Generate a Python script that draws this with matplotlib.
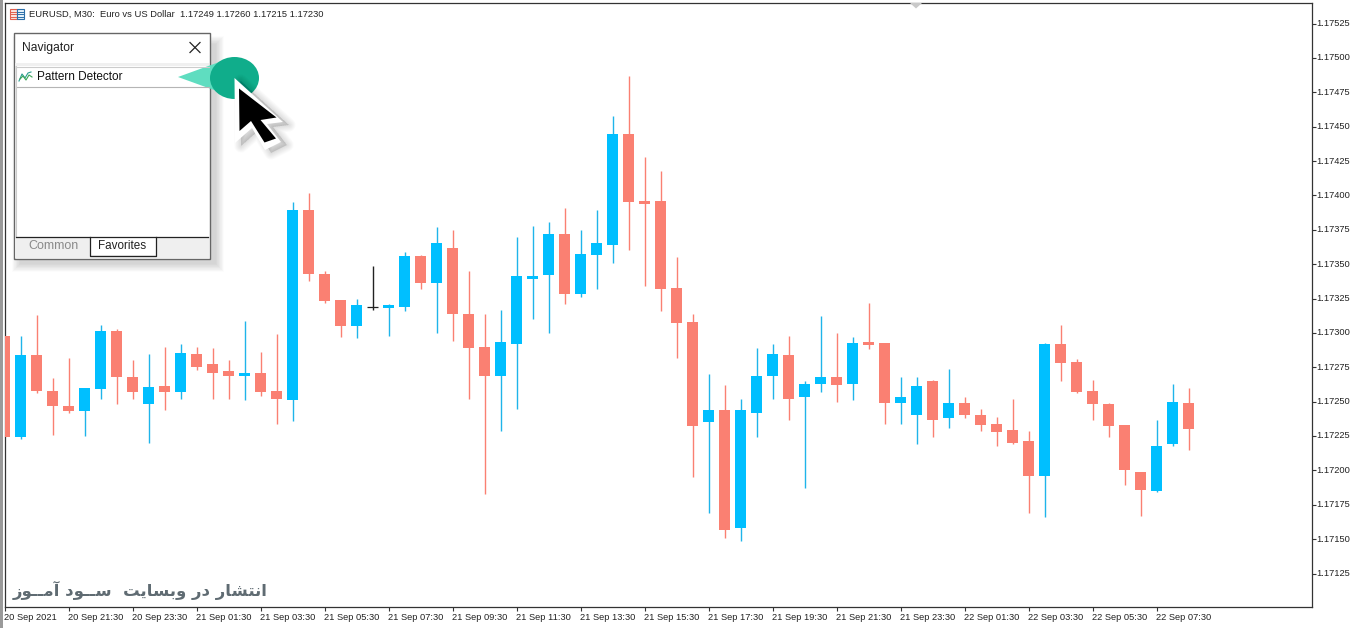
import matplotlib
matplotlib.use('Agg')
import matplotlib.pyplot as plt
from matplotlib.patches import Rectangle, Polygon, Ellipse
from matplotlib.transforms import ScaledTranslation

W, H = 1364, 628

# EURUSD M30 candles, prices in 1e-5 units
opens = [117298, 117224, 117284, 117258, 117247, 117243, 117259, 117301, 117268, 117248,
         117261, 117257, 117285, 117277, 117272, 117269, 117271, 117258, 117251, 117389,
         117343, 117324, 117305, 117319, 117318, 117319, 117356, 117336, 117362, 117314,
         117290, 117269, 117292, 117339, 117342, 117372, 117328, 117357, 117364, 117445,
         117396, 117396, 117333, 117308, 117235, 117244, 117158, 117242, 117269, 117284,
         117253, 117263, 117268, 117263, 117293, 117293, 117249, 117240, 117265, 117238,
         117249, 117240, 117234, 117229, 117221, 117196, 117292, 117279, 117258, 117248,
         117233, 117199, 117185, 117219, 117249]
highs = [117298, 117298, 117313, 117267, 117282, 117260, 117306, 117303, 117280, 117285,
         117290, 117292, 117290, 117289, 117280, 117309, 117286, 117299, 117395, 117402,
         117345, 117324, 117325, 117349, 117321, 117359, 117357, 117377, 117375, 117345,
         117314, 117317, 117370, 117378, 117381, 117391, 117375, 117389, 117458, 117487,
         117428, 117418, 117355, 117314, 117270, 117262, 117252, 117289, 117292, 117298,
         117265, 117312, 117300, 117297, 117322, 117293, 117268, 117268, 117266, 117274,
         117253, 117245, 117239, 117252, 117229, 117293, 117306, 117281, 117266, 117249,
         117233, 117199, 117237, 117263, 117260]
lows = [117224, 117223, 117256, 117226, 117242, 117225, 117252, 117248, 117252, 117220,
        117244, 117252, 117273, 117252, 117252, 117251, 117254, 117234, 117236, 117338,
        117322, 117297, 117296, 117317, 117298, 117316, 117332, 117300, 117294, 117252,
        117183, 117229, 117245, 117310, 117300, 117321, 117326, 117332, 117351, 117360,
        117334, 117316, 117282, 117195, 117169, 117151, 117149, 117224, 117252, 117237,
        117187, 117257, 117250, 117251, 117288, 117234, 117234, 117219, 117224, 117231,
        117238, 117229, 117218, 117219, 117169, 117166, 117265, 117256, 117237, 117224,
        117189, 117167, 117184, 117218, 117215]
closes = [117224, 117284, 117258, 117247, 117243, 117260, 117301, 117268, 117257, 117261,
          117257, 117285, 117275, 117271, 117269, 117271, 117257, 117252, 117389, 117343,
          117323, 117305, 117320, 117319, 117320, 117356, 117336, 117365, 117314, 117289,
          117269, 117293, 117341, 117341, 117372, 117328, 117357, 117365, 117445, 117395,
          117394, 117332, 117307, 117232, 117244, 117157, 117244, 117269, 117285, 117252,
          117263, 117268, 117262, 117293, 117291, 117249, 117253, 117261, 117237, 117249,
          117240, 117233, 117228, 117220, 117196, 117292, 117278, 117257, 117248, 117232,
          117200, 117186, 117218, 117250, 117230]

price_ticks = ['1.17125', '1.17150', '1.17175', '1.17200', '1.17225', '1.17250', '1.17275',
               '1.17300', '1.17325', '1.17350', '1.17375', '1.17400', '1.17425', '1.17450',
               '1.17475', '1.17500', '1.17525']
time_ticks = ['20 Sep 2021', '20 Sep 21:30', '20 Sep 23:30', '21 Sep 01:30', '21 Sep 03:30',
              '21 Sep 05:30', '21 Sep 07:30', '21 Sep 09:30', '21 Sep 11:30', '21 Sep 13:30',
              '21 Sep 15:30', '21 Sep 17:30', '21 Sep 19:30', '21 Sep 21:30', '21 Sep 23:30',
              '22 Sep 01:30', '22 Sep 03:30', '22 Sep 05:30', '22 Sep 07:30']
header = 'EURUSD, M30:  Euro vs US Dollar  1.17249 1.17260 1.17215 1.17230'

BLUE = '#00bfff'
RED = '#fa8072'
UI_FONT = 'Liberation Sans'
plt.rcParams['font.family'] = [UI_FONT, 'DejaVu Sans']

fig = plt.figure(figsize=(W / 100, H / 100), dpi=100)
ax = fig.add_axes([4.5 / W, 1 - 607 / H, 1307 / W, 604 / H])

# one bar is 16 px wide on the time axis, price scale 1.375 px per 1e-5
ax.set_xlim(0, 1307 / 16)
ax.set_ylim(1.17525 - (607 - 23.5) / 137500, 1.17525 + (23.5 - 3) / 137500)

for i in range(len(opens)):
    o, h, l, c = opens[i] / 1e5, highs[i] / 1e5, lows[i] / 1e5, closes[i] / 1e5
    if opens[i] == closes[i]:
        col = '#222222'
    elif c > o:
        col = BLUE
    else:
        col = RED
    wick = '#1fb4ea' if col == BLUE else col
    ax.vlines(i, l, h, color=wick, lw=1.0, zorder=2)
    bottom, top = min(o, c), max(o, c)
    if top == bottom:
        ax.hlines(o, i - 0.34, i + 0.34, color=col, lw=0.9, zorder=3)
    else:
        ax.bar(i, top - bottom, 0.69, bottom=bottom, color=col, lw=0, zorder=3)

ax.yaxis.tick_right()
ax.set_yticks([float(t) for t in price_ticks])
ax.set_yticklabels(price_ticks)
ax.set_xticks(range(0, 73, 4))
ax.set_xticklabels(time_ticks, ha='left')
ax.tick_params(axis='y', length=3, width=0.8, color='#333333', labelsize=6.7,
               labelcolor='#222222', pad=0.5)
ax.tick_params(axis='x', length=3, width=0.8, color='#333333', labelsize=6.7,
               labelcolor='#222222', pad=1.5)
for lab in ax.get_yticklabels():
    lab.set_transform(lab.get_transform() + ScaledTranslation(0, 0.01, fig.dpi_scale_trans))
for side in ax.spines.values():
    side.set_color('#333333')
    side.set_linewidth(0.9)

# overlay in pixel coordinates for the terminal chrome
ui = fig.add_axes([0, 0, 1, 1], zorder=5)
ui.set_xlim(0, W)
ui.set_ylim(H, 0)
ui.axis('off')
ui.patch.set_alpha(0)

ui.add_patch(Rectangle((0, 0), 2.5, H, fc='#9a9a9a', lw=0))
ui.add_patch(Polygon([(910, 3), (922, 3), (916, 8.5)], fc='#c9c9c9', lw=0))
ui.text(29, 14, header, fontsize=6.75, color='#222222', va='center')

# chart window icon
ui.add_patch(Rectangle((9.5, 8.5), 7, 10, fc='#fde3df', ec='#e0604f', lw=0.8))
ui.add_patch(Rectangle((16.5, 8.5), 7, 10, fc='#e4f1fa', ec='#2b6ea8', lw=0.8))
for yy in (11.5, 14, 16.5):
    ui.plot([10.5, 15.5], [yy, yy], color='#e0604f', lw=0.7)
    ui.plot([17.5, 22.5], [yy, yy], color='#2b6ea8', lw=0.7)

# navigator panel with a soft shadow
for k in range(14):
    ui.add_patch(Rectangle((12 + k * 0.6, 36 + k * 0.6), 212 - 1.2 * k, 236 - 1.2 * k, fc='k', alpha=0.011, lw=0))
ui.add_patch(Rectangle((14, 33), 196, 226, fc='white', ec='#666666', lw=1.0))
ui.add_patch(Rectangle((15, 63), 194, 3, fc='#f0f0f0', lw=0))
ui.plot([16, 209], [66.5, 66.5], color='#cccccc', lw=0.8)
ui.plot([16, 209], [86.5, 86.5], color='#b5b5b5', lw=0.8)
ui.plot([15.5, 15.5], [66, 236], color='#cccccc', lw=0.8)
ui.text(22, 47.5, 'Navigator', fontsize=8.7, color='#222222', va='center')
ui.plot([190, 200], [42.5, 52.5], color='#222222', lw=0.9)
ui.plot([190, 200], [52.5, 42.5], color='#222222', lw=0.9)
ui.plot([19, 22, 25, 28, 31], [81, 74, 78, 73, 72], color='#2a9d8f', lw=0.8)
ui.plot([20, 23, 26, 29, 32], [79, 76, 80, 75, 77], color='#3aa655', lw=0.8)
ui.text(37, 77, 'Pattern Detector', fontsize=8.5, color='#111111', va='center')

# tab strip
ui.add_patch(Rectangle((15, 237), 194, 21, fc='#efefef', lw=0))
ui.plot([16, 208], [236.5, 236.5], color='#222222', lw=0.9)
ui.add_patch(Rectangle((89.5, 236), 66, 19, fc='white', lw=0))
ui.plot([89.5, 89.5, 155.5, 155.5], [236.5, 255.5, 255.5, 236.5], color='#222222', lw=0.9)
ui.text(53.5, 246, 'Common', fontsize=9, color='#8a8a8a', ha='center', va='center')
ui.text(122, 246, 'Favorites', fontsize=8.4, color='#222222', ha='center', va='center')

# callout marker
ui.add_patch(Polygon([(178, 77), (222, 61), (236, 98)], fc='#5fddc0', lw=0))
ui.add_patch(Ellipse((234.5, 78), 49, 42, fc='#10ad8b', lw=0))

# pointer: shadow, white outline, black arrow
outline = [(234.5, 78), (283, 122), (267, 124), (281, 142), (265, 150), (252, 128), (235, 143)]
arrow = [(239, 88.5), (276.5, 117.5), (260.5, 120), (276, 138.5), (264.5, 142.5), (251, 121), (239.5, 131)]
for k in range(8):
    ui.add_patch(Polygon([(x + 6, y + 3) for x, y in outline], fc='k', ec='k',
                         lw=(8 - k) * 1.2, alpha=0.017, joinstyle='round'))
ui.add_patch(Polygon(outline, fc='white', lw=0))
ui.add_patch(Polygon(arrow, fc='black', lw=0))

# matplotlib does not shape Arabic script, so the words use presentation forms in drawing order
words = ['\ufe8d\ufee7\ufe98\ufeb8\ufe8e\ufead',
         '\ufea9\ufead',
         '\ufeed\ufe91\ufeb4\ufe8e\ufef3\ufe96',
         '',
         '\ufeb3\u0640\u0640\ufeee\ufea9',
         '\ufe81\ufee3\u0640\u0640\ufeee\ufeaf']
watermark = ' '.join(words)[::-1]
ui.text(13, 590.5, watermark, family='DejaVu Sans', weight='bold', fontsize=11.85,
        color='#5f6b72', va='center')

fig.savefig('out.png', dpi=100)
